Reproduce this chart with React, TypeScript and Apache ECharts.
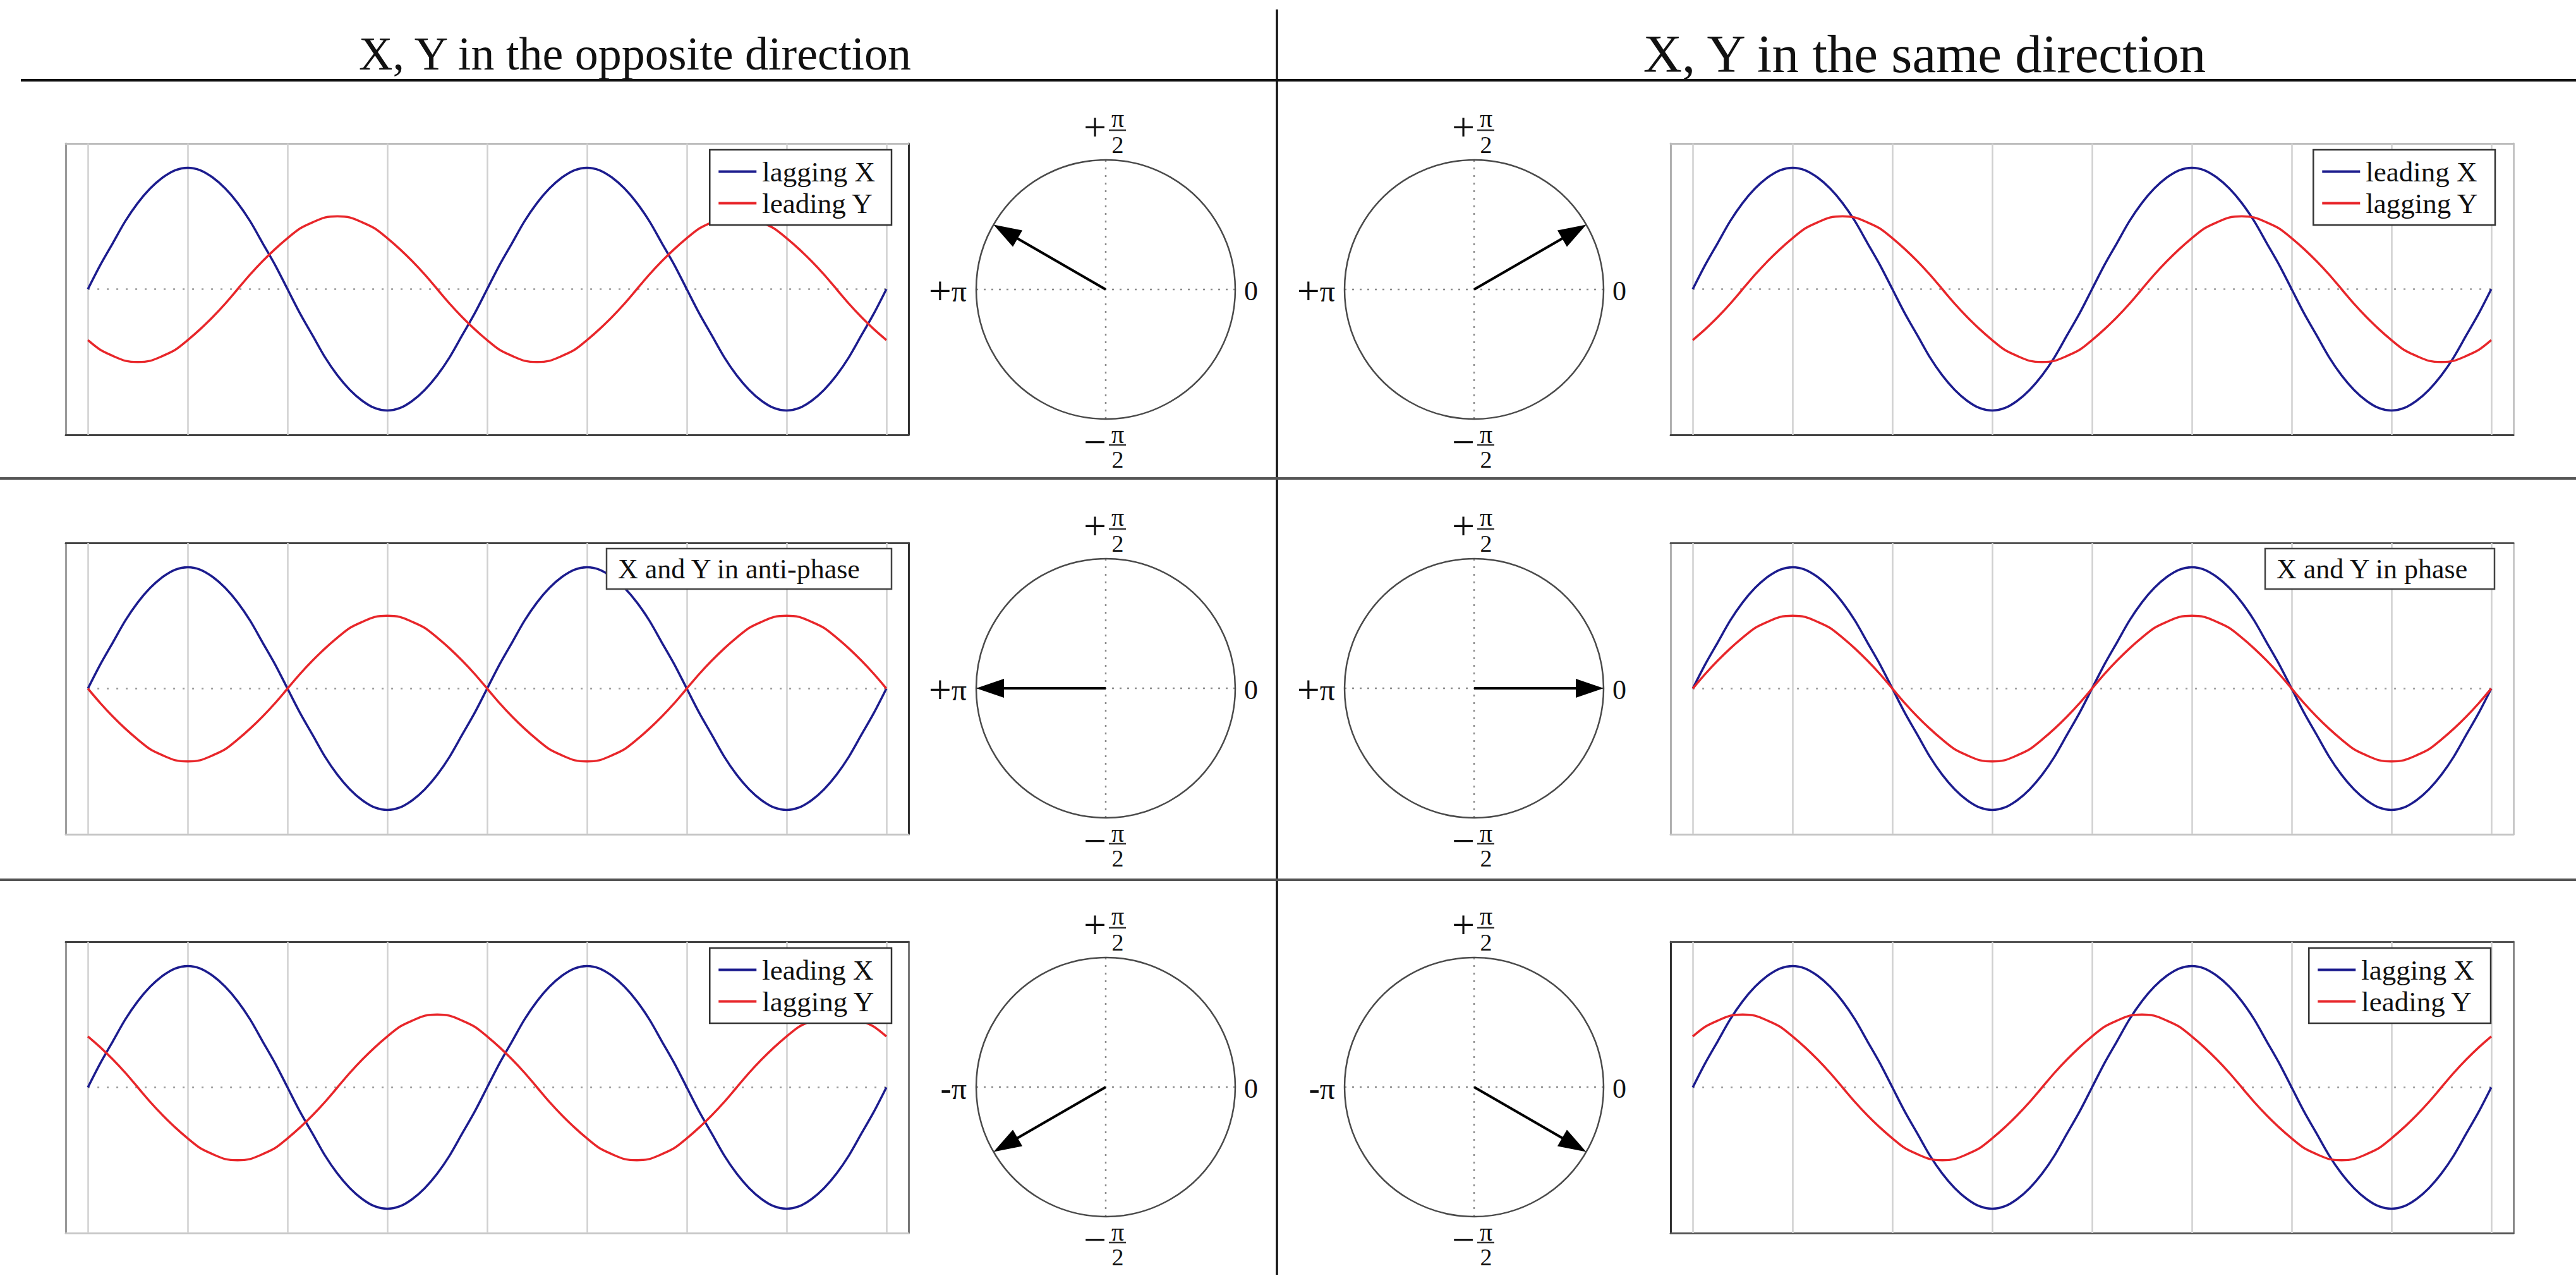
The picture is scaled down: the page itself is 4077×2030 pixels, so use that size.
import React, { useEffect, useRef } from 'react';
import * as echarts from 'echarts';

// ---------------- data ----------------
// phase angle (degrees) along the horizontal axis of every wave panel
const PHASE = [0, 11.25, 22.5, 33.75, 45, 56.25, 67.5, 78.75, 90, 101.25, 112.5, 123.75, 135, 146.25, 157.5, 168.75,
  180, 191.25, 202.5, 213.75, 225, 236.25, 247.5, 258.75, 270, 281.25, 292.5, 303.75, 315, 326.25, 337.5, 348.75,
  360, 371.25, 382.5, 393.75, 405, 416.25, 427.5, 438.75, 450, 461.25, 472.5, 483.75, 495, 506.25, 517.5, 528.75,
  540, 551.25, 562.5, 573.75, 585, 596.25, 607.5, 618.75, 630, 641.25, 652.5, 663.75, 675, 686.25, 697.5, 708.75, 720];

// X wave (blue), identical in all six panels
const X_WAVE = [0, 0.2, 0.38, 0.56, 0.71, 0.83, 0.92, 0.98, 1, 0.98, 0.92, 0.83, 0.71, 0.56, 0.38, 0.2,
  0, -0.2, -0.38, -0.56, -0.71, -0.83, -0.92, -0.98, -1, -0.98, -0.92, -0.83, -0.71, -0.56, -0.38, -0.2,
  0, 0.2, 0.38, 0.56, 0.71, 0.83, 0.92, 0.98, 1, 0.98, 0.92, 0.83, 0.71, 0.56, 0.38, 0.2,
  0, -0.2, -0.38, -0.56, -0.71, -0.83, -0.92, -0.98, -1, -0.98, -0.92, -0.83, -0.71, -0.56, -0.38, -0.2, 0];

// Y waves (red), one per panel
const Y_ROW1_LEFT = [-0.42, -0.5, -0.55, -0.59, -0.6, -0.59, -0.55, -0.5, -0.42, -0.33, -0.23, -0.12, 0, 0.12, 0.23, 0.33,
  0.42, 0.5, 0.55, 0.59, 0.6, 0.59, 0.55, 0.5, 0.42, 0.33, 0.23, 0.12, 0, -0.12, -0.23, -0.33,
  -0.42, -0.5, -0.55, -0.59, -0.6, -0.59, -0.55, -0.5, -0.42, -0.33, -0.23, -0.12, 0, 0.12, 0.23, 0.33,
  0.42, 0.5, 0.55, 0.59, 0.6, 0.59, 0.55, 0.5, 0.42, 0.33, 0.23, 0.12, 0, -0.12, -0.23, -0.33, -0.42];
const Y_ROW1_RIGHT = [-0.42, -0.33, -0.23, -0.12, 0, 0.12, 0.23, 0.33, 0.42, 0.5, 0.55, 0.59, 0.6, 0.59, 0.55, 0.5,
  0.42, 0.33, 0.23, 0.12, 0, -0.12, -0.23, -0.33, -0.42, -0.5, -0.55, -0.59, -0.6, -0.59, -0.55, -0.5,
  -0.42, -0.33, -0.23, -0.12, 0, 0.12, 0.23, 0.33, 0.42, 0.5, 0.55, 0.59, 0.6, 0.59, 0.55, 0.5,
  0.42, 0.33, 0.23, 0.12, 0, -0.12, -0.23, -0.33, -0.42, -0.5, -0.55, -0.59, -0.6, -0.59, -0.55, -0.5, -0.42];
const Y_ROW2_LEFT = [0, -0.12, -0.23, -0.33, -0.42, -0.5, -0.55, -0.59, -0.6, -0.59, -0.55, -0.5, -0.42, -0.33, -0.23, -0.12,
  0, 0.12, 0.23, 0.33, 0.42, 0.5, 0.55, 0.59, 0.6, 0.59, 0.55, 0.5, 0.42, 0.33, 0.23, 0.12,
  0, -0.12, -0.23, -0.33, -0.42, -0.5, -0.55, -0.59, -0.6, -0.59, -0.55, -0.5, -0.42, -0.33, -0.23, -0.12,
  0, 0.12, 0.23, 0.33, 0.42, 0.5, 0.55, 0.59, 0.6, 0.59, 0.55, 0.5, 0.42, 0.33, 0.23, 0.12, 0];
const Y_ROW2_RIGHT = [0, 0.12, 0.23, 0.33, 0.42, 0.5, 0.55, 0.59, 0.6, 0.59, 0.55, 0.5, 0.42, 0.33, 0.23, 0.12,
  0, -0.12, -0.23, -0.33, -0.42, -0.5, -0.55, -0.59, -0.6, -0.59, -0.55, -0.5, -0.42, -0.33, -0.23, -0.12,
  0, 0.12, 0.23, 0.33, 0.42, 0.5, 0.55, 0.59, 0.6, 0.59, 0.55, 0.5, 0.42, 0.33, 0.23, 0.12,
  0, -0.12, -0.23, -0.33, -0.42, -0.5, -0.55, -0.59, -0.6, -0.59, -0.55, -0.5, -0.42, -0.33, -0.23, -0.12, 0];
const Y_ROW3_LEFT = [0.42, 0.33, 0.23, 0.12, 0, -0.12, -0.23, -0.33, -0.42, -0.5, -0.55, -0.59, -0.6, -0.59, -0.55, -0.5,
  -0.42, -0.33, -0.23, -0.12, 0, 0.12, 0.23, 0.33, 0.42, 0.5, 0.55, 0.59, 0.6, 0.59, 0.55, 0.5,
  0.42, 0.33, 0.23, 0.12, 0, -0.12, -0.23, -0.33, -0.42, -0.5, -0.55, -0.59, -0.6, -0.59, -0.55, -0.5,
  -0.42, -0.33, -0.23, -0.12, 0, 0.12, 0.23, 0.33, 0.42, 0.5, 0.55, 0.59, 0.6, 0.59, 0.55, 0.5, 0.42];
const Y_ROW3_RIGHT = [0.42, 0.5, 0.55, 0.59, 0.6, 0.59, 0.55, 0.5, 0.42, 0.33, 0.23, 0.12, 0, -0.12, -0.23, -0.33,
  -0.42, -0.5, -0.55, -0.59, -0.6, -0.59, -0.55, -0.5, -0.42, -0.33, -0.23, -0.12, 0, 0.12, 0.23, 0.33,
  0.42, 0.5, 0.55, 0.59, 0.6, 0.59, 0.55, 0.5, 0.42, 0.33, 0.23, 0.12, 0, -0.12, -0.23, -0.33,
  -0.42, -0.5, -0.55, -0.59, -0.6, -0.59, -0.55, -0.5, -0.42, -0.33, -0.23, -0.12, 0, 0.12, 0.23, 0.33, 0.42];

const Y_WAVES = [Y_ROW1_LEFT, Y_ROW1_RIGHT, Y_ROW2_LEFT, Y_ROW2_RIGHT, Y_ROW3_LEFT, Y_ROW3_RIGHT];

// quarter-period grid lines
const GRID_TICKS = [0, 90, 180, 270, 360, 450, 540, 630, 720];

// series names (legend entries) per panel
const X_NAMES = ['lagging X', 'leading X', 'X (anti-phase)', 'X (in phase)', 'leading X', 'lagging X'];
const Y_NAMES = ['leading Y', 'lagging Y', 'Y (anti-phase)', 'Y (in phase)', 'lagging Y', 'leading Y'];
const BOX_TEXTS = ['X and Y in anti-phase', 'X and Y in phase'];

// phase arrows (degrees) of the six circles
const ARROW_ANGLES = [150, 30, 180, 0, -150, -30];
const CIRCLE_LEFT_SIGNS = ['+', '+', '+', '+', '-', '-'];

const TITLES = ['X, Y in the opposite direction', 'X, Y in the same direction'];

// ---------------- layout / style ----------------
const W = 4077;
const H = 2030;
const FONT = '"Liberation Serif", "DejaVu Serif", serif';
const BLUE = '#1c1c8e';
const RED = '#e8262a';
const COL_LEFT = [104, 2644];
const PLOT_W = 1334;
const ROW_TOP = [227, 859, 1490];
const PLOT_H = 461;
const CIRCLE_X = [1750, 2333];
const CIRCLE_Y = [458, 1089, 1720];
const R = 205;
// border colours: top, right, bottom, left
const BORDERS = [
  ['#bdbdbd', '#333', '#444', '#9a9a9a'],
  ['#bdbdbd', '#c4c4c4', '#444', '#b0b0b0'],
  ['#444', '#333', '#c4c4c4', '#a0a0a0'],
  ['#555', '#c8c8c8', '#c4c4c4', '#b0b0b0'],
  ['#444', '#777', '#c8c8c8', '#999'],
  ['#555', '#888', '#555', '#333'],
];
const LEGEND_POS = [
  { right: 2666, top: 237 },
  { right: 128, top: 237 },
  null,
  null,
  { right: 2666, top: 1500 },
  { right: 135, top: 1500 },
];
const BOX_POS = [
  { x: 960, y: 868, w: 451, h: 64 },
  { x: 3585, y: 868, w: 363, h: 64 },
];

function txt(text: string, x: number, y: number, size: number, align = 'center', extra: any = {}) {
  return {
    type: 'text',
    x,
    y,
    z: 100,
    silent: true,
    style: {
      text,
      font: `${size}px ${FONT}`,
      fill: '#111',
      textAlign: align,
      textVerticalAlign: 'middle',
      ...extra,
    },
  };
}
function seg(x1: number, y1: number, x2: number, y2: number, color: string, width: number) {
  return {
    type: 'line',
    z: 100,
    silent: true,
    shape: { x1, y1, x2, y2 },
    style: { stroke: color, lineWidth: width },
  };
}

function buildOption() {
  const grid: any[] = [];
  const xAxis: any[] = [];
  const yAxis: any[] = [];
  const series: any[] = [];
  const legend: any[] = [];
  const polar: any[] = [];
  const angleAxis: any[] = [];
  const radiusAxis: any[] = [];
  const graphic: any[] = [];

  const axLine = (c: string) => ({ show: true, onZero: false, lineStyle: { color: c, width: 3 } });
  const hidden = { axisTick: { show: false }, axisLabel: { show: false }, splitLine: { show: false } };

  for (let p = 0; p < 6; p++) {
    const row = Math.floor(p / 2);
    const col = p % 2;
    const b = BORDERS[p];
    grid.push({ left: COL_LEFT[col], top: ROW_TOP[row], width: PLOT_W, height: PLOT_H });
    xAxis.push({ gridIndex: p, type: 'value', min: -20, max: 740, position: 'bottom', axisLine: axLine(b[2]), ...hidden });
    xAxis.push({ gridIndex: p, type: 'value', min: -20, max: 740, position: 'top', axisLine: axLine(b[0]), ...hidden });
    yAxis.push({ gridIndex: p, type: 'value', min: -1.2, max: 1.2, position: 'left', axisLine: axLine(b[3]), ...hidden });
    yAxis.push({ gridIndex: p, type: 'value', min: -1.2, max: 1.2, position: 'right', axisLine: axLine(b[1]), ...hidden });

    series.push({
      type: 'line',
      name: X_NAMES[p],
      xAxisIndex: 2 * p,
      yAxisIndex: 2 * p,
      data: PHASE.map((x, i) => [x, X_WAVE[i]]),
      smooth: 0.3,
      symbol: 'none',
      showSymbol: false,
      lineStyle: { color: BLUE, width: 3.5 },
      itemStyle: { color: BLUE },
      z: 3,
      markLine: {
        silent: true,
        symbol: 'none',
        z: 1,
        label: { show: false },
        lineStyle: { color: '#d0d0d0', width: 2.5, type: 'solid' },
        data: GRID_TICKS.map((t) => ({ xAxis: t })),
      },
    });
    series.push({
      type: 'line',
      name: Y_NAMES[p],
      xAxisIndex: 2 * p,
      yAxisIndex: 2 * p,
      data: PHASE.map((x, i) => [x, Y_WAVES[p][i]]),
      smooth: 0.3,
      symbol: 'none',
      showSymbol: false,
      lineStyle: { color: RED, width: 3.5 },
      itemStyle: { color: RED },
      z: 3,
      markLine: {
        silent: true,
        symbol: 'none',
        z: 1,
        label: { show: false },
        lineStyle: { color: '#9a9a9a', width: 2.5, type: [3, 12] },
        data: [[{ coord: [PHASE[0], 0] }, { coord: [PHASE[PHASE.length - 1], 0] }]],
      },
    });

    const lp = LEGEND_POS[p];
    if (lp) {
      legend.push({
        orient: 'vertical',
        right: lp.right,
        top: lp.top,
        data: [X_NAMES[p], Y_NAMES[p]],
        icon: 'rect',
        itemWidth: 60,
        itemHeight: 4,
        itemGap: 5,
        padding: [12, 26, 12, 14],
        borderColor: '#333',
        borderWidth: 2.5,
        backgroundColor: '#fff',
        selectedMode: false,
        textStyle: { fontFamily: FONT, fontSize: 45, color: '#111', padding: [0, 0, 0, 4] },
      });
    } else {
      const bp = BOX_POS[col];
      graphic.push({
        type: 'rect',
        z: 100,
        silent: true,
        shape: { x: bp.x, y: bp.y, width: bp.w, height: bp.h },
        style: { fill: '#fff', stroke: '#444', lineWidth: 2.5 },
      });
      graphic.push(txt(BOX_TEXTS[col], bp.x + 18, bp.y + bp.h / 2, 44, 'left'));
    }

    // phase circle
    const cx = CIRCLE_X[col];
    const cy = CIRCLE_Y[row];
    polar.push({ center: [cx, cy], radius: R });
    angleAxis.push({
      polarIndex: p,
      type: 'value',
      min: 0,
      max: 360,
      interval: 90,
      startAngle: 0,
      clockwise: false,
      axisLine: { show: true, lineStyle: { color: '#4a4a4a', width: 2.5 } },
      axisTick: { show: false },
      axisLabel: { show: false },
      splitLine: { show: true, lineStyle: { color: '#8c8c8c', width: 2.5, type: [3, 9] } },
      splitArea: { show: false },
    });
    radiusAxis.push({ polarIndex: p, type: 'value', min: 0, max: 1, show: false });
    series.push({
      type: 'custom',
      coordinateSystem: 'polar',
      polarIndex: p,
      silent: true,
      z: 5,
      data: [[1, (ARROW_ANGLES[p] + 360) % 360]],
      renderItem: (params: any, api: any) => {
        const c = api.coord([0, 0]);
        const t = api.coord([api.value(0), api.value(1)]);
        const dx = t[0] - c[0];
        const dy = t[1] - c[1];
        const len = Math.hypot(dx, dy) || 1;
        const ux = dx / len;
        const uy = dy / len;
        const HL = 44;
        const HW = 15;
        const bx = t[0] - ux * HL;
        const by = t[1] - uy * HL;
        return {
          type: 'group',
          children: [
            {
              type: 'line',
              shape: { x1: c[0], y1: c[1], x2: bx + ux * 6, y2: by + uy * 6 },
              style: { stroke: '#000', lineWidth: 4 },
            },
            {
              type: 'polygon',
              shape: { points: [[t[0], t[1]], [bx - uy * HW, by + ux * HW], [bx + uy * HW, by - ux * HW]] },
              style: { fill: '#000' },
            },
          ],
        };
      },
    });

    // circle labels
    graphic.push(txt('+', cx - 17, cy - 257, 64));
    graphic.push(txt('π', cx + 19, cy - 271, 40));
    graphic.push(seg(cx + 5, cy - 252, cx + 32, cy - 252, '#333', 2.5));
    graphic.push(txt('2', cx + 19, cy - 229, 38));
    graphic.push(txt('−', cx - 17, cy + 241, 64));
    graphic.push(txt('π', cx + 19, cy + 229, 40));
    graphic.push(seg(cx + 5, cy + 246, cx + 32, cy + 246, '#333', 2.5));
    graphic.push(txt('2', cx + 19, cy + 269, 38));
    const sign = CIRCLE_LEFT_SIGNS[p];
    graphic.push({
      type: 'text',
      x: cx - 220,
      y: cy + 2,
      z: 100,
      silent: true,
      style: {
        text: `{s|${sign}}{q|π}`,
        textAlign: 'right',
        textVerticalAlign: 'middle',
        fill: '#111',
        rich: {
          s: { fontFamily: FONT, fontSize: sign === '+' ? 64 : 52, fill: '#111', verticalAlign: 'middle' },
          q: { fontFamily: FONT, fontSize: 48, fill: '#111', verticalAlign: 'middle' },
        },
      },
    });
    graphic.push(txt('0', cx + 230, cy + 2, 44));
  }

  // titles and frame lines
  graphic.push(txt(TITLES[0], 1005, 85, 74));
  graphic.push(txt(TITLES[1], 3046, 85, 85));
  graphic.push(seg(33, 127, W, 127, '#111', 4));
  graphic.push(seg(2021, 15, 2021, 2017, '#111', 3.5));
  graphic.push(seg(0, 757, W, 757, '#555', 4));
  graphic.push(seg(0, 1392, W, 1392, '#555', 4));

  return {
    animation: false,
    backgroundColor: '#fff',
    grid,
    xAxis,
    yAxis,
    polar,
    angleAxis,
    radiusAxis,
    legend,
    series,
    graphic,
  };
}

export default function App() {
  const ref = useRef<HTMLDivElement>(null);
  useEffect(() => {
    if (!ref.current) return;
    const chart = echarts.init(ref.current, undefined, { renderer: 'svg' });
    chart.setOption(buildOption() as any);
    return () => chart.dispose();
  }, []);
  return (
    <div
      ref={ref}
      style={{ position: 'fixed', left: 0, top: 0, width: W, height: H, background: '#fff' }}
    />
  );
}
